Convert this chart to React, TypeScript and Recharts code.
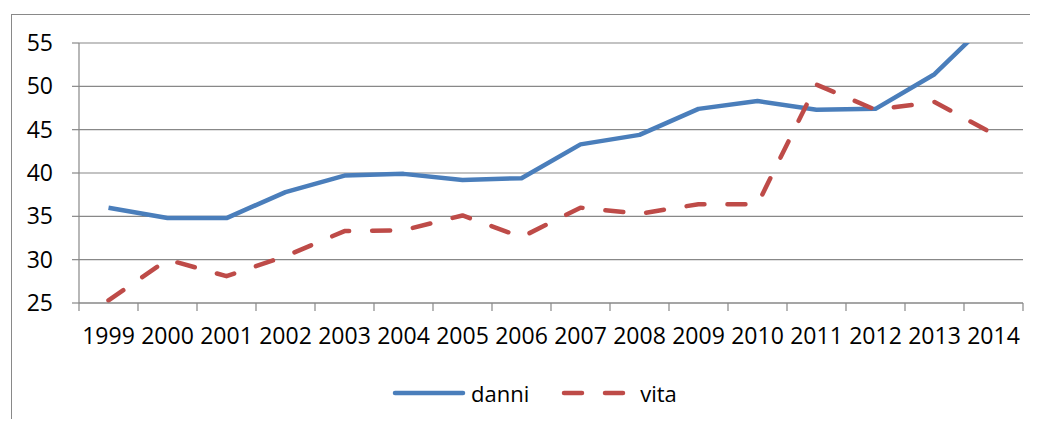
import { LineChart, Line, XAxis, YAxis, CartesianGrid, Legend } from 'recharts'

const YEARS = ['1999', '2000', '2001', '2002', '2003', '2004', '2005', '2006', '2007', '2008', '2009', '2010', '2011', '2012', '2013', '2014']
const DANNI = [36.0, 34.8, 34.8, 37.8, 39.7, 39.9, 39.2, 39.4, 43.3, 44.4, 47.4, 48.3, 47.3, 47.4, 51.4, 58.0]
const VITA = [25.3, 30.0, 28.1, 30.4, 33.3, 33.4, 35.1, 32.6, 36.0, 35.3, 36.4, 36.4, 50.2, 47.3, 48.2, 44.5]
const Y_TICKS = [25, 30, 35, 40, 45, 50, 55]

const data = YEARS.map((year, i) => ({ year, danni: DANNI[i], vita: VITA[i] }))

const BLUE = '#4A7EBB'
const RED = '#BE4B48'
const GRID = '#888888'
const FONT = '"Open Sans", "Liberation Sans", sans-serif'
const DASH = '18 23'
const X_TICK_SIZE = 8
const X_TICK_MARGIN = 17

// category label + tick marks on the band edges (Excel style)
function YearTick({ x, y, payload, width, visibleTicksCount, index }: any) {
  const half = payload?.offset > 0 ? payload.offset : width / visibleTicksCount / 2
  const axisY = y - X_TICK_SIZE - X_TICK_MARGIN
  const last = index === visibleTicksCount - 1
  return (
    <g>
      <line x1={x - half} y1={axisY} x2={x - half} y2={axisY + X_TICK_SIZE} stroke={GRID} strokeWidth={1.2} />
      {last && <line x1={x + half} y1={axisY} x2={x + half} y2={axisY + X_TICK_SIZE} stroke={GRID} strokeWidth={1.2} />}
      <text x={x} y={y} dy="0.71em" textAnchor="middle" fontFamily={FONT} fontSize={23} fill="#000">
        {payload.value}
      </text>
    </g>
  )
}

function LegendContent({ payload }: any) {
  if (!payload?.length) return null
  return (
    <div style={{ display: 'flex', alignItems: 'center', fontFamily: FONT, fontSize: 22, color: '#000' }}>
      {payload.map((entry: any, i: number) => {
        const dashed = entry.dataKey === 'vita'
        const w = dashed ? 66 : 74
        return (
          <div key={entry.dataKey} style={{ display: 'flex', alignItems: 'center', marginLeft: i === 0 ? 0 : 32 }}>
            <svg width={w} height={12}>
              <line
                x1={3}
                y1={6}
                x2={w - 3}
                y2={6}
                stroke={entry.color}
                strokeWidth={4.5}
                strokeLinecap="round"
                strokeDasharray={dashed ? DASH : undefined}
              />
            </svg>
            <span style={{ marginLeft: dashed ? 13 : 5, lineHeight: '24px' }}>{entry.value}</span>
          </div>
        )
      })}
    </div>
  )
}

export default function App() {
  return (
    <div style={{ position: 'relative', width: 1038, height: 427, margin: -8, overflow: 'hidden', background: '#fff' }}>
      <div
        style={{
          position: 'absolute',
          left: 11,
          top: 14,
          width: 1027,
          height: 413,
          borderLeft: '1px solid #898989',
          borderTop: '1px solid #898989',
          boxSizing: 'border-box',
        }}
      />
      <div style={{ position: 'absolute', left: 0, top: 0 }}>
        <LineChart width={1038} height={427} data={data} margin={{ top: 43, right: 15, left: 0, bottom: 94 }}>
          <CartesianGrid vertical={false} stroke={GRID} strokeWidth={1.2} />
          <XAxis
            dataKey="year"
            scale="band"
            interval={0}
            height={30}
            axisLine={{ stroke: GRID, strokeWidth: 1.2 }}
            tickLine={false}
            tickSize={X_TICK_SIZE}
            tickMargin={X_TICK_MARGIN}
            tick={<YearTick />}
          />
          <YAxis
            domain={[25, 55]}
            ticks={Y_TICKS}
            allowDataOverflow
            width={79}
            tickSize={7}
            tickMargin={19}
            axisLine={{ stroke: GRID, strokeWidth: 1.2 }}
            tickLine={{ stroke: GRID, strokeWidth: 1.2 }}
            tick={{ fontFamily: FONT, fontSize: 23, fill: '#000' }}
          />
          <Legend
            layout="horizontal"
            verticalAlign="middle"
            align="center"
            wrapperStyle={{ left: 392, top: 381, width: 'auto' }}
            content={<LegendContent />}
          />
          <Line
            dataKey="danni"
            stroke={BLUE}
            strokeWidth={4.5}
            dot={false}
            activeDot={false}
            strokeLinejoin="round"
            isAnimationActive={false}
          />
          <Line
            dataKey="vita"
            stroke={RED}
            strokeWidth={4.5}
            strokeDasharray={DASH}
            strokeLinecap="round"
            dot={false}
            activeDot={false}
            strokeLinejoin="round"
            isAnimationActive={false}
          />
        </LineChart>
      </div>
    </div>
  )
}
